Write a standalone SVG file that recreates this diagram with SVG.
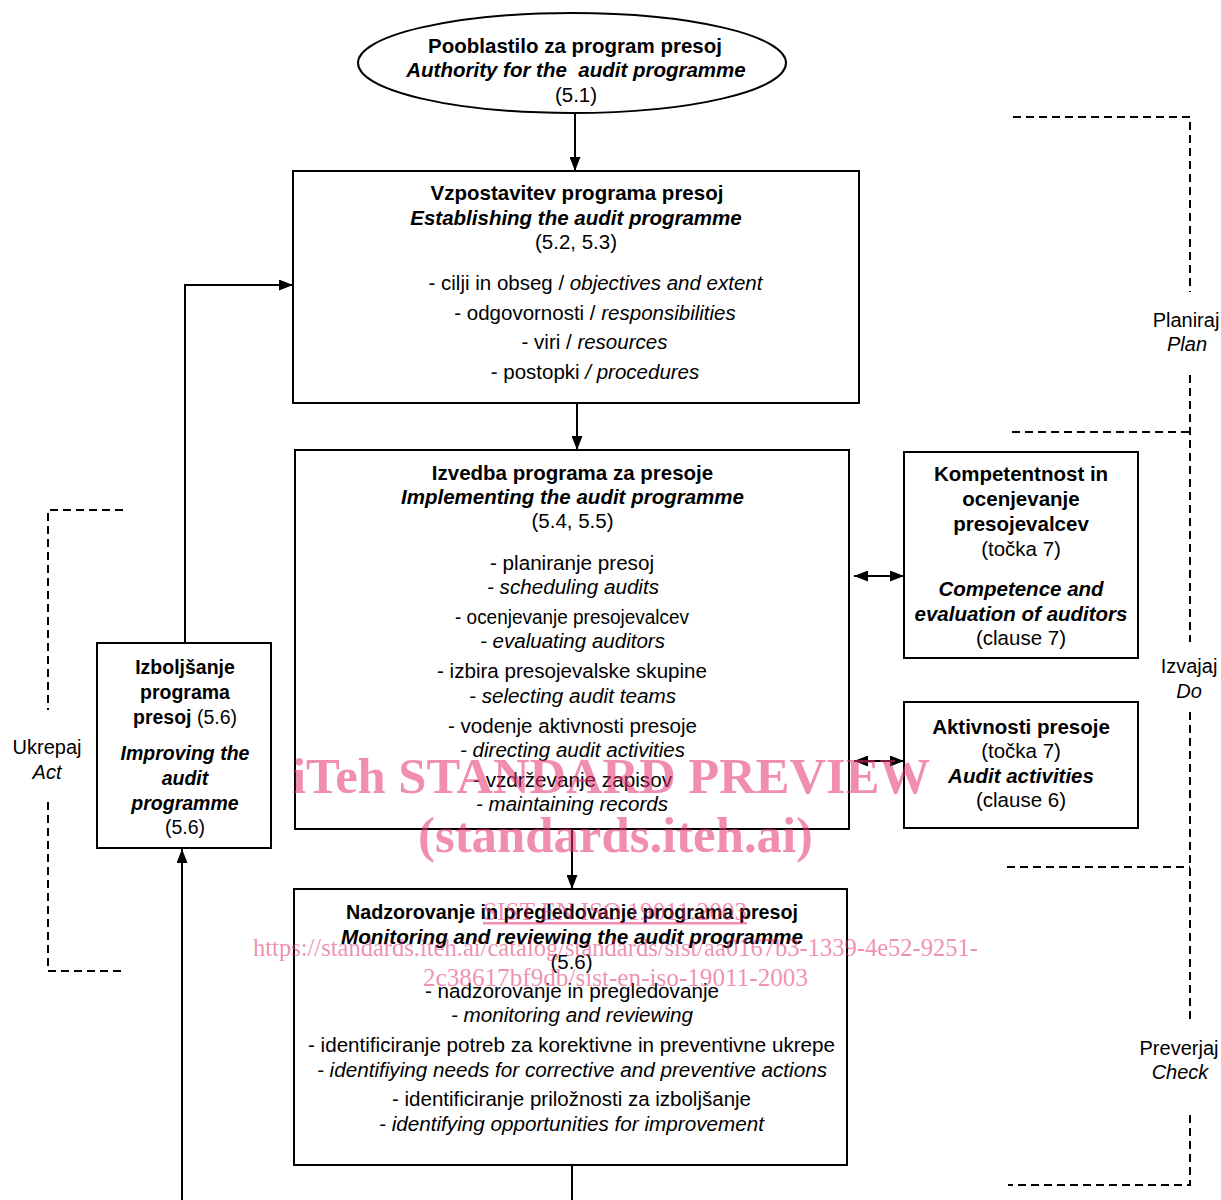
<svg xmlns="http://www.w3.org/2000/svg" width="1221" height="1200" viewBox="0 0 1221 1200">
<style>
text{font-family:"Liberation Sans",Arial,sans-serif;font-size:20.5px;fill:#000;text-anchor:middle}
.b{font-weight:bold}
.i{font-style:italic}
.bi{font-weight:bold;font-style:italic}
.sm{font-size:19.5px}
.box{fill:#fff;stroke:#000;stroke-width:2}
.conn{stroke:#000;stroke-width:2;fill:none}
.dash{stroke:#000;stroke-width:2;fill:none;stroke-dasharray:8 5}
.lbl{font-size:20px}
.wm{font-family:"Liberation Serif","Times New Roman",serif;fill:#e5306f;fill-opacity:0.55;text-anchor:start}
.wmb{font-weight:bold;font-size:50px}
.wms{font-size:25px}
</style>
<defs>
<marker id="ah" viewBox="0 0 14 11" refX="14" refY="5.5" markerWidth="14" markerHeight="11" markerUnits="userSpaceOnUse" orient="auto-start-reverse">
<path d="M0,0 L14,5.5 L0,11 Z" fill="#000"/>
</marker>
</defs>

<g id="phases">
<path class="dash" d="M1013,117 H1190 V292 M1190,375 V642 M1012,432 H1190 M1190,712 V1020 M1007,867 H1190 M1190,1115 V1185 H1008"/>
<path class="dash" d="M123,510 H48 V710 M48,802 V971 H125"/>
<text class="lbl" x="1186" y="327">Planiraj</text>
<text class="lbl i" x="1187" y="351">Plan</text>
<text class="lbl" x="1189" y="673">Izvajaj</text>
<text class="lbl i" x="1189" y="698">Do</text>
<text class="lbl" x="1179" y="1055">Preverjaj</text>
<text class="lbl i" x="1180" y="1079">Check</text>
<text class="lbl" x="47" y="754">Ukrepaj</text>
<text class="lbl i" x="47" y="779">Act</text>
</g>

<g id="connectors">
<path class="conn" d="M575,113 V171" marker-end="url(#ah)"/>
<path class="conn" d="M577,403 V450" marker-end="url(#ah)"/>
<path class="conn" d="M572,829 V889" marker-end="url(#ah)"/>
<path class="conn" d="M572,1165 V1200"/>
<path class="conn" d="M182,1200 V849" marker-end="url(#ah)"/>
<path class="conn" d="M185,643 V285 H293" marker-end="url(#ah)"/>
<path class="conn" d="M854,576 H904" marker-start="url(#ah)" marker-end="url(#ah)"/>
<path class="conn" d="M854,761 H904" marker-start="url(#ah)" marker-end="url(#ah)"/>
</g>

<g id="authority">
<ellipse class="box" cx="572" cy="63" rx="214" ry="50"/>
<text class="b" x="575" y="53">Pooblastilo za program presoj</text>
<text class="bi" x="576" y="77" xml:space="preserve">Authority for the  audit programme</text>
<text x="576" y="102">(5.1)</text>
</g>

<g id="establishing">
<rect class="box" x="293" y="171" width="566" height="232"/>
<text class="b" x="577" y="200">Vzpostavitev programa presoj</text>
<text class="bi" x="576" y="225">Establishing the audit programme</text>
<text x="576" y="249">(5.2, 5.3)</text>
<text x="595.5" y="290">- cilji in obseg / <tspan class="i">objectives and extent</tspan></text>
<text x="595" y="320">- odgovornosti / <tspan class="i">responsibilities</tspan></text>
<text x="594.5" y="349">- viri / <tspan class="i">resources</tspan></text>
<text x="595" y="379">- postopki <tspan class="i">/ procedures</tspan></text>
</g>

<g id="implementing">
<rect class="box" x="295" y="450" width="554" height="379"/>
<text class="b" x="572.5" y="480">Izvedba programa za presoje</text>
<text class="bi" x="572.5" y="504">Implementing the audit programme</text>
<text x="572.5" y="528">(5.4, 5.5)</text>
<text x="572" y="570" textLength="164" lengthAdjust="spacingAndGlyphs">- planiranje presoj</text>
<text class="i" x="573" y="594" textLength="172" lengthAdjust="spacingAndGlyphs">- scheduling audits</text>
<text x="572" y="624" textLength="234" lengthAdjust="spacingAndGlyphs">- ocenjevanje presojevalcev</text>
<text class="i" x="572.5" y="648" textLength="185" lengthAdjust="spacingAndGlyphs">- evaluating auditors</text>
<text x="572" y="678" textLength="270" lengthAdjust="spacingAndGlyphs">- izbira presojevalske skupine</text>
<text class="i" x="572.5" y="703" textLength="207" lengthAdjust="spacingAndGlyphs">- selecting audit teams</text>
<text x="572.5" y="733" textLength="249" lengthAdjust="spacingAndGlyphs">- vodenje aktivnosti presoje</text>
<text class="i" x="572.5" y="757" textLength="225" lengthAdjust="spacingAndGlyphs">- directing audit activities</text>
<text x="572.5" y="787" textLength="199" lengthAdjust="spacingAndGlyphs">- vzdrževanje zapisov</text>
<text class="i" x="572" y="811" textLength="192" lengthAdjust="spacingAndGlyphs">- maintaining records</text>
</g>

<g id="competence">
<rect class="box" x="904" y="452" width="234" height="206"/>
<text class="b" x="1021" y="481">Kompetentnost in</text>
<text class="b" x="1021" y="506">ocenjevanje</text>
<text class="b" x="1021" y="531">presojevalcev</text>
<text x="1021" y="556">(točka 7)</text>
<text class="bi" x="1021" y="596">Competence and</text>
<text class="bi" x="1021" y="621">evaluation of auditors</text>
<text x="1021" y="645">(clause 7)</text>
</g>

<g id="activities">
<rect class="box" x="904" y="702" width="234" height="126"/>
<text class="b" x="1021" y="734">Aktivnosti presoje</text>
<text x="1021" y="758">(točka 7)</text>
<text class="bi" x="1021" y="783">Audit activities</text>
<text x="1021" y="807">(clause 6)</text>
</g>

<g id="improving">
<rect class="box" x="97" y="643" width="174" height="205"/>
<text class="b sm" x="185" y="674">Izboljšanje</text>
<text class="b sm" x="185" y="699">programa</text>
<text class="sm" x="185" y="724"><tspan class="b">presoj</tspan> (5.6)</text>
<text class="bi sm" x="185" y="760">Improving the</text>
<text class="bi sm" x="185" y="785">audit</text>
<text class="bi sm" x="185" y="810">programme</text>
<text class="sm" x="185" y="834">(5.6)</text>
</g>

<g id="monitoring">
<rect class="box" x="294" y="889" width="553" height="276"/>
<text class="b" x="572" y="919" textLength="452" lengthAdjust="spacingAndGlyphs">Nadzorovanje in pregledovanje programa presoj</text>
<text class="bi" x="572" y="944" textLength="462" lengthAdjust="spacingAndGlyphs">Monitoring and reviewing the audit programme</text>
<text x="571.5" y="969">(5.6)</text>
<text x="572" y="998" textLength="294" lengthAdjust="spacingAndGlyphs">- nadzorovanje in pregledovanje</text>
<text class="i" x="572" y="1022" textLength="242" lengthAdjust="spacingAndGlyphs">- monitoring and reviewing</text>
<text x="571.5" y="1052" textLength="527" lengthAdjust="spacingAndGlyphs">- identificiranje potreb za korektivne in preventivne ukrepe</text>
<text class="i" x="572" y="1077" textLength="510" lengthAdjust="spacingAndGlyphs">- identifiying needs for corrective and preventive actions</text>
<text x="571.5" y="1106" textLength="359" lengthAdjust="spacingAndGlyphs">- identificiranje priložnosti za izboljšanje</text>
<text class="i" x="571.5" y="1131" textLength="385" lengthAdjust="spacingAndGlyphs">- identifying opportunities for improvement</text>
</g>

<g id="watermark">
<text class="wm wmb" x="292" y="793" textLength="638" lengthAdjust="spacingAndGlyphs">iTeh STANDARD PREVIEW</text>
<text class="wm wmb" x="418" y="852" textLength="395" lengthAdjust="spacingAndGlyphs">(standards.iteh.ai)</text>
<text class="wm wms" x="483" y="920" textLength="264" lengthAdjust="spacingAndGlyphs" text-decoration="underline">SIST EN ISO 19011:2003</text>
<text class="wm wms" x="253" y="956" textLength="725" lengthAdjust="spacingAndGlyphs">https://standards.iteh.ai/catalog/standards/sist/aa0167b3-1339-4e52-9251-</text>
<text class="wm wms" x="423" y="986" textLength="385" lengthAdjust="spacingAndGlyphs">2c38617bf9db/sist-en-iso-19011-2003</text>
</g>
</svg>
